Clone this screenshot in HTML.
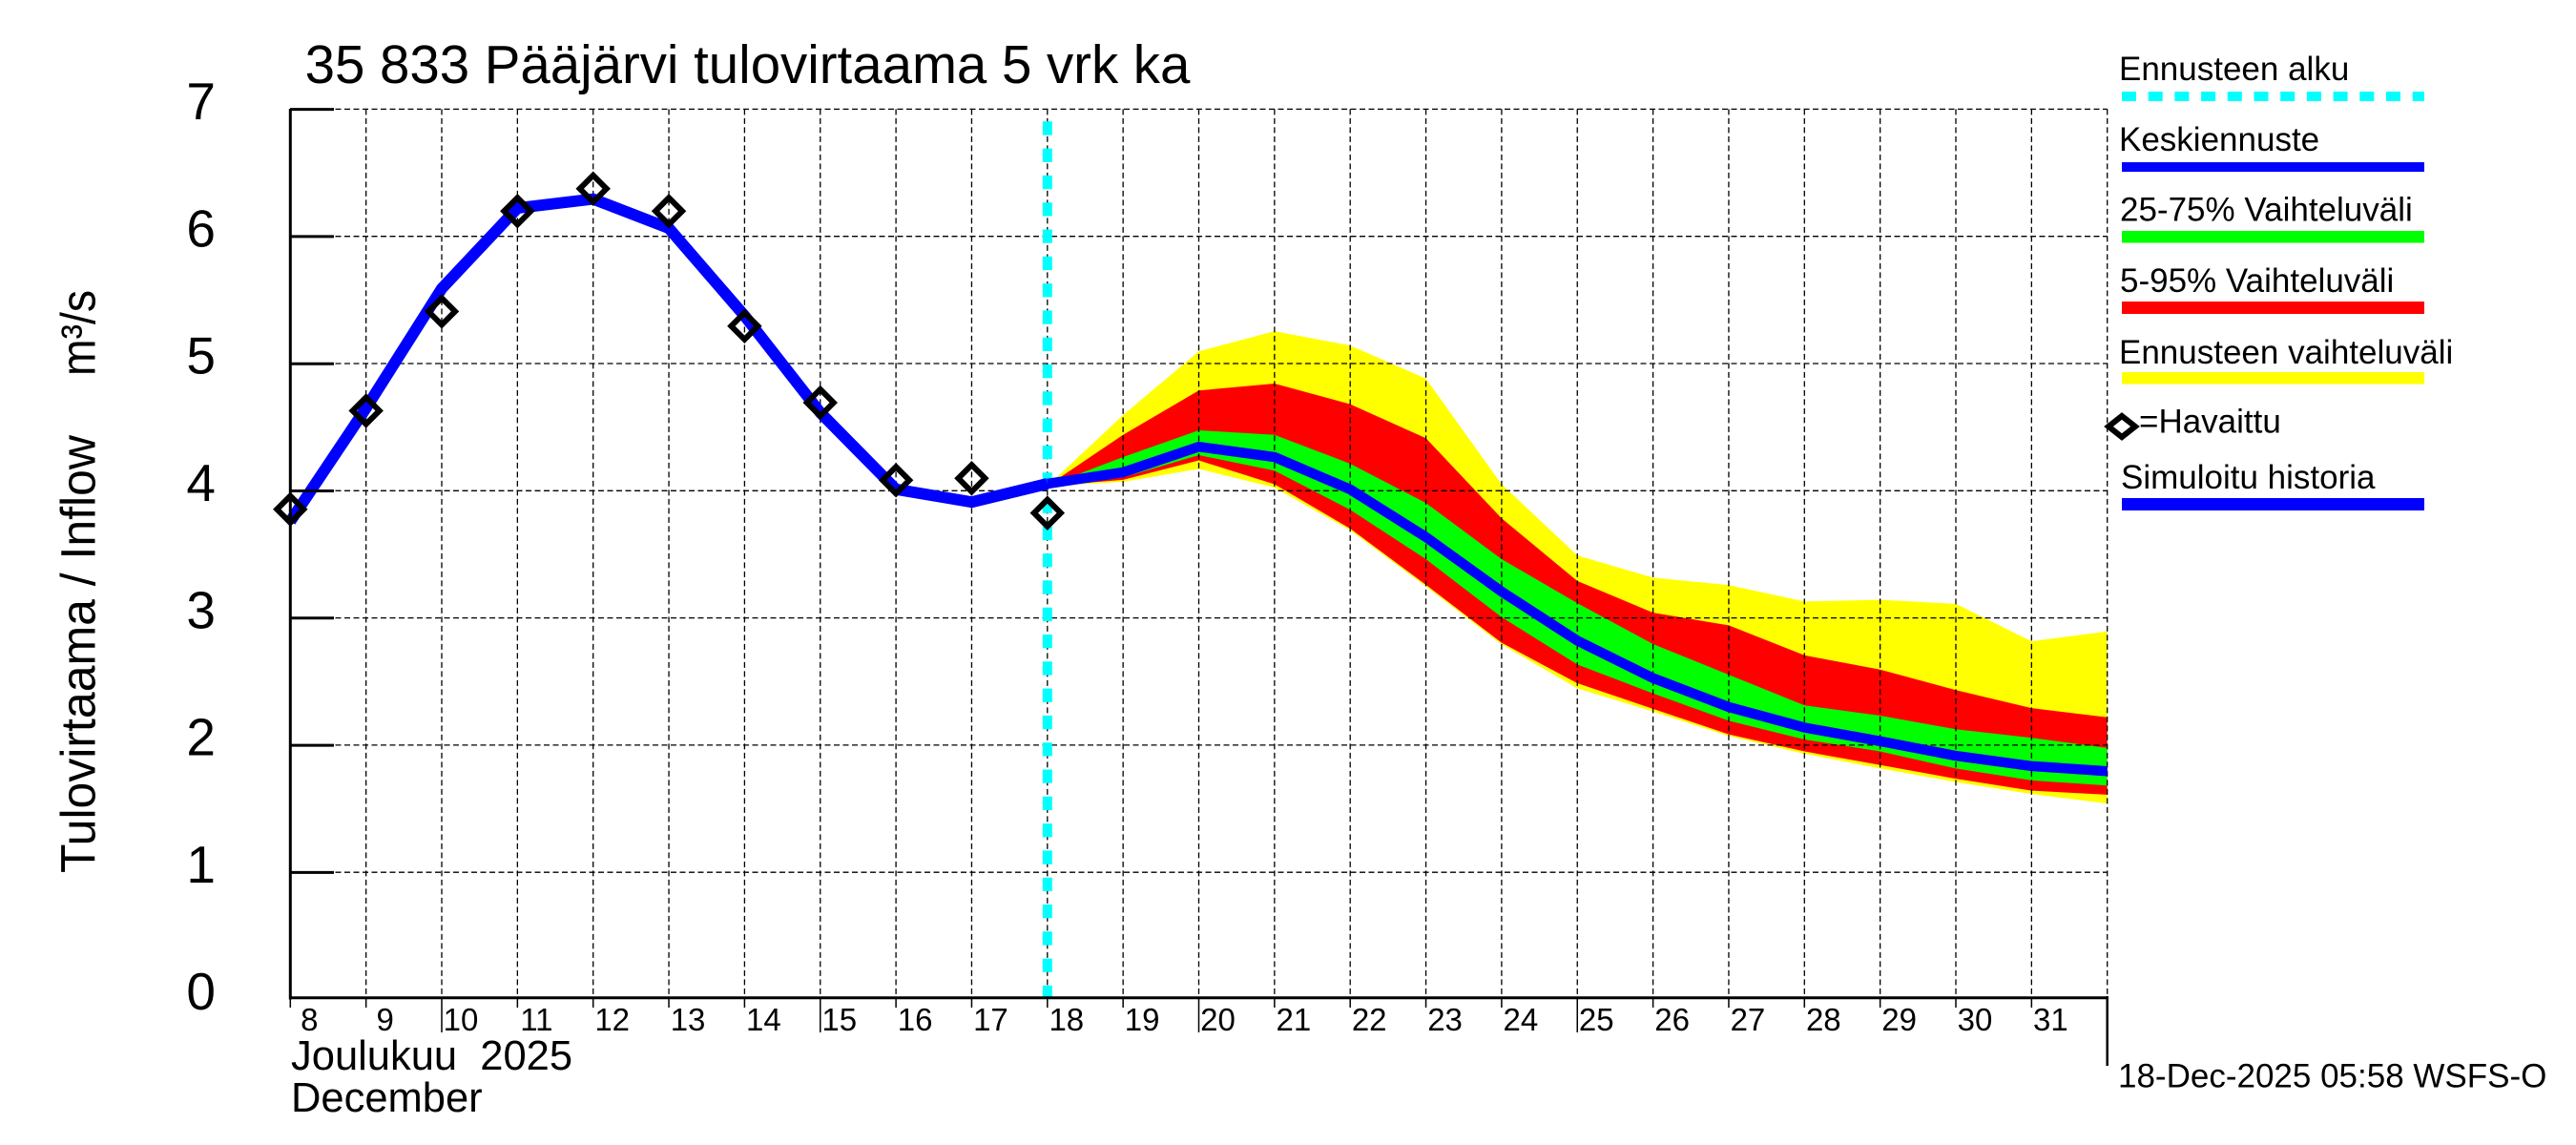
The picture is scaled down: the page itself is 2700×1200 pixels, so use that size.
<!DOCTYPE html>
<html><head><meta charset="utf-8"><style>
html,body{margin:0;padding:0;background:#fff;}
svg{display:block;}
text{font-family:"Liberation Sans",Arial,sans-serif;fill:#000;}
</style></head><body>
<svg width="2700" height="1200" viewBox="0 0 2700 1200" xmlns="http://www.w3.org/2000/svg">
<rect width="2700" height="1200" fill="#fff"/>

<!-- forecast bands -->
<polygon fill="#ffff00" points="1097.8,509.3 1177.15,435 1256.5,368.2 1335.85,347.1 1415.2,362.1 1494.55,396.8 1573.9,507.5 1653.25,582.1 1732.6,605.4 1811.95,613.2 1891.3,630.4 1970.65,628.6 2050,632.9 2129.35,672.1 2208.7,661.8 2208.7,842.1 2129.35,832.1 2050,819.6 1970.65,805.4 1891.3,790 1811.95,771.4 1732.6,745.7 1653.25,721.4 1573.9,675.4 1494.55,614.6 1415.2,555.7 1335.85,511 1256.5,491.4 1177.15,505"/>
<polygon fill="#ff0000" points="1097.8,509.3 1177.15,455.7 1256.5,409.3 1335.85,402 1415.2,423.6 1494.55,459.3 1573.9,543.2 1653.25,608.9 1732.6,642.1 1811.95,655.4 1891.3,686.8 1970.65,701.8 2050,723.2 2129.35,742.1 2208.7,751.8 2208.7,832.9 2129.35,828.6 2050,816.1 1970.65,801.8 1891.3,787.5 1811.95,769.6 1732.6,742.9 1653.25,716 1573.9,673.6 1494.55,612.9 1415.2,554 1335.85,507.5 1256.5,482.5 1177.15,502.9"/>
<polygon fill="#00ff00" points="1097.8,509.3 1177.15,479 1256.5,451 1335.85,455.7 1415.2,486 1494.55,527.1 1573.9,586 1653.25,632.1 1732.6,675 1811.95,707.1 1891.3,739.3 1970.65,750 2050,764.3 2129.35,773.2 2208.7,783.9 2208.7,823.2 2129.35,817.9 2050,805.4 1970.65,787.5 1891.3,775 1811.95,755.4 1732.6,726.8 1653.25,696.4 1573.9,646.8 1494.55,586 1415.2,534.3 1335.85,493.2 1256.5,477 1177.15,500.4"/>

<!-- grid -->
<g stroke="#000" stroke-width="1.3" stroke-dasharray="6 3.5" fill="none">
<line x1="304" y1="114.4" x2="2208.7" y2="114.4"/>
<line x1="304" y1="247.7" x2="2208.7" y2="247.7"/>
<line x1="304" y1="381" x2="2208.7" y2="381"/>
<line x1="304" y1="514.3" x2="2208.7" y2="514.3"/>
<line x1="304" y1="647.6" x2="2208.7" y2="647.6"/>
<line x1="304" y1="780.9" x2="2208.7" y2="780.9"/>
<line x1="304" y1="914.2" x2="2208.7" y2="914.2"/>
<line x1="383.65" y1="114.4" x2="383.65" y2="1046"/>
<line x1="463" y1="114.4" x2="463" y2="1046"/>
<line x1="542.35" y1="114.4" x2="542.35" y2="1046"/>
<line x1="621.7" y1="114.4" x2="621.7" y2="1046"/>
<line x1="701.05" y1="114.4" x2="701.05" y2="1046"/>
<line x1="780.4" y1="114.4" x2="780.4" y2="1046"/>
<line x1="859.75" y1="114.4" x2="859.75" y2="1046"/>
<line x1="939.1" y1="114.4" x2="939.1" y2="1046"/>
<line x1="1018.45" y1="114.4" x2="1018.45" y2="1046"/>
<line x1="1097.8" y1="114.4" x2="1097.8" y2="1046"/>
<line x1="1177.15" y1="114.4" x2="1177.15" y2="1046"/>
<line x1="1256.5" y1="114.4" x2="1256.5" y2="1046"/>
<line x1="1335.85" y1="114.4" x2="1335.85" y2="1046"/>
<line x1="1415.2" y1="114.4" x2="1415.2" y2="1046"/>
<line x1="1494.55" y1="114.4" x2="1494.55" y2="1046"/>
<line x1="1573.9" y1="114.4" x2="1573.9" y2="1046"/>
<line x1="1653.25" y1="114.4" x2="1653.25" y2="1046"/>
<line x1="1732.6" y1="114.4" x2="1732.6" y2="1046"/>
<line x1="1811.95" y1="114.4" x2="1811.95" y2="1046"/>
<line x1="1891.3" y1="114.4" x2="1891.3" y2="1046"/>
<line x1="1970.65" y1="114.4" x2="1970.65" y2="1046"/>
<line x1="2050" y1="114.4" x2="2050" y2="1046"/>
<line x1="2129.35" y1="114.4" x2="2129.35" y2="1046"/>
<line x1="2208.7" y1="114.4" x2="2208.7" y2="1046"/>
</g>

<!-- cyan forecast start -->
<line x1="1097.8" y1="127.3" x2="1097.8" y2="1046" stroke="#00ffff" stroke-width="10" stroke-dasharray="14.3 14"/>

<!-- blue line (history) -->
<polyline fill="none" stroke="#0000ff" stroke-width="12" stroke-linejoin="miter" points="304.3,546.3 383.65,427.7 463,302.4 542.35,218.1 621.7,208.6 701.05,239.2 780.4,331 859.75,432.4 939.1,512.8 1018.45,526.2 1097.8,507"/>
<!-- blue line (median forecast) -->
<polyline fill="none" stroke="#0000ff" stroke-width="10.5" stroke-linejoin="miter" points="1097.8,507 1177.15,495 1256.5,468.2 1335.85,479 1415.2,512.9 1494.55,562.9 1573.9,620 1653.25,671.4 1732.6,710.7 1811.95,741 1891.3,762.5 1970.65,776.8 2050,792.1 2129.35,802.9 2208.7,808.2"/>

<!-- axes -->
<g stroke="#000" stroke-width="3" fill="none">
<line x1="304.3" y1="114" x2="304.3" y2="1047.5"/>
<line x1="303" y1="1045.8" x2="2208.7" y2="1045.8"/>
<line x1="304" y1="114.6" x2="350" y2="114.6"/>
<line x1="304" y1="247.9" x2="350" y2="247.9"/>
<line x1="304" y1="381.2" x2="350" y2="381.2"/>
<line x1="304" y1="514.5" x2="350" y2="514.5"/>
<line x1="304" y1="647.8" x2="350" y2="647.8"/>
<line x1="304" y1="781.1" x2="350" y2="781.1"/>
<line x1="304" y1="914.4" x2="350" y2="914.4"/>
</g>
<g stroke="#000" stroke-width="1.5">
<line x1="304.3" y1="1047" x2="304.3" y2="1056"/>
<line x1="383.65" y1="1047" x2="383.65" y2="1056"/>
<line x1="463" y1="1047" x2="463" y2="1082"/>
<line x1="542.35" y1="1047" x2="542.35" y2="1056"/>
<line x1="621.7" y1="1047" x2="621.7" y2="1056"/>
<line x1="701.05" y1="1047" x2="701.05" y2="1056"/>
<line x1="780.4" y1="1047" x2="780.4" y2="1056"/>
<line x1="859.75" y1="1047" x2="859.75" y2="1082"/>
<line x1="939.1" y1="1047" x2="939.1" y2="1056"/>
<line x1="1018.45" y1="1047" x2="1018.45" y2="1056"/>
<line x1="1097.8" y1="1047" x2="1097.8" y2="1056"/>
<line x1="1177.15" y1="1047" x2="1177.15" y2="1056"/>
<line x1="1256.5" y1="1047" x2="1256.5" y2="1082"/>
<line x1="1335.85" y1="1047" x2="1335.85" y2="1056"/>
<line x1="1415.2" y1="1047" x2="1415.2" y2="1056"/>
<line x1="1494.55" y1="1047" x2="1494.55" y2="1056"/>
<line x1="1573.9" y1="1047" x2="1573.9" y2="1056"/>
<line x1="1653.25" y1="1047" x2="1653.25" y2="1082"/>
<line x1="1732.6" y1="1047" x2="1732.6" y2="1056"/>
<line x1="1811.95" y1="1047" x2="1811.95" y2="1056"/>
<line x1="1891.3" y1="1047" x2="1891.3" y2="1056"/>
<line x1="1970.65" y1="1047" x2="1970.65" y2="1056"/>
<line x1="2050" y1="1047" x2="2050" y2="1056"/>
<line x1="2129.35" y1="1047" x2="2129.35" y2="1056"/>
<line x1="2208.7" y1="1044" x2="2208.7" y2="1117" stroke-width="2.5"/>
</g>

<!-- observed diamonds -->
<g fill="none" stroke="#000" stroke-width="6" stroke-linejoin="miter">
<path d="M304.3,519.8 L318.3,533.8 L304.3,547.8 L290.3,533.8 Z"/>
<path d="M383.65,416.5 L397.65,430.5 L383.65,444.5 L369.65,430.5 Z"/>
<path d="M463,312.4 L477,326.4 L463,340.4 L449,326.4 Z"/>
<path d="M542.35,207.2 L556.35,221.2 L542.35,235.2 L528.35,221.2 Z"/>
<path d="M621.7,183.8 L635.7,197.8 L621.7,211.8 L607.7,197.8 Z"/>
<path d="M701.05,207.2 L715.05,221.2 L701.05,235.2 L687.05,221.2 Z"/>
<path d="M780.4,327.7 L794.4,341.7 L780.4,355.7 L766.4,341.7 Z"/>
<path d="M859.75,408 L873.75,422 L859.75,436 L845.75,422 Z"/>
<path d="M939.1,489.2 L953.1,503.2 L939.1,517.2 L925.1,503.2 Z"/>
<path d="M1018.45,487.3 L1032.45,501.3 L1018.45,515.3 L1004.45,501.3 Z"/>
<path d="M1097.8,523.6 L1111.8,537.6 L1097.8,551.6 L1083.8,537.6 Z"/>
</g>

<!-- title -->
<text x="319.6" y="87" font-size="56.4">35 833 Pääjärvi tulovirtaama 5 vrk ka</text>

<!-- y tick labels -->
<g font-size="55" text-anchor="end">
<text x="226" y="125">7</text>
<text x="226" y="258.4">6</text>
<text x="226" y="391.7">5</text>
<text x="226" y="525">4</text>
<text x="226" y="658.3">3</text>
<text x="226" y="791.6">2</text>
<text x="226" y="924.9">1</text>
<text x="226" y="1058">0</text>
</g>

<!-- y axis label -->
<text transform="translate(99.5,915) rotate(-90)" font-size="51" textLength="459" lengthAdjust="spacingAndGlyphs">Tulovirtaama / Inflow</text>
<text transform="translate(99.5,394) rotate(-90)" font-size="51" textLength="90" lengthAdjust="spacingAndGlyphs">m³/s</text>

<!-- x tick labels -->
<g font-size="33" text-anchor="middle">
<text x="324.3" y="1080">8</text>
<text x="403.65" y="1080">9</text>
<text x="483" y="1080">10</text>
<text x="562.35" y="1080">11</text>
<text x="641.7" y="1080">12</text>
<text x="721.05" y="1080">13</text>
<text x="800.4" y="1080">14</text>
<text x="879.75" y="1080">15</text>
<text x="959.1" y="1080">16</text>
<text x="1038.45" y="1080">17</text>
<text x="1117.8" y="1080">18</text>
<text x="1197.15" y="1080">19</text>
<text x="1276.5" y="1080">20</text>
<text x="1355.85" y="1080">21</text>
<text x="1435.2" y="1080">22</text>
<text x="1514.55" y="1080">23</text>
<text x="1593.9" y="1080">24</text>
<text x="1673.25" y="1080">25</text>
<text x="1752.6" y="1080">26</text>
<text x="1831.95" y="1080">27</text>
<text x="1911.3" y="1080">28</text>
<text x="1990.65" y="1080">29</text>
<text x="2070" y="1080">30</text>
<text x="2149.35" y="1080">31</text>
</g>

<text x="305" y="1121" font-size="43.5">Joulukuu&#160;&#160;2025</text>
<text x="305" y="1165" font-size="43.5">December</text>
<text x="2220" y="1139.5" font-size="35">18-Dec-2025 05:58 WSFS-O</text>

<!-- legend -->
<g font-size="35">
<text x="2221" y="84">Ennusteen alku</text>
<text x="2221" y="158">Keskiennuste</text>
<text x="2222" y="231.5">25-75% Vaihteluväli</text>
<text x="2222" y="306">5-95% Vaihteluväli</text>
<text x="2221" y="381">Ennusteen vaihteluväli</text>
<text x="2242" y="453.5">=Havaittu</text>
<text x="2223" y="512">Simuloitu historia</text>
</g>
<line x1="2224" y1="101" x2="2541" y2="101" stroke="#00ffff" stroke-width="10" stroke-dasharray="15 12.7"/>
<rect x="2224" y="170" width="317" height="10" fill="#0000ff"/>
<rect x="2224" y="242" width="317" height="12.5" fill="#00ff00"/>
<rect x="2224" y="316" width="317" height="13" fill="#ff0000"/>
<rect x="2224" y="390" width="317" height="12.6" fill="#ffff00"/>
<rect x="2224" y="522" width="317" height="13" fill="#0000ff"/>
<path d="M2224,436 L2238,447 L2224,458 L2210,447 Z" fill="none" stroke="#000" stroke-width="6"/>
</svg>
</body></html>
